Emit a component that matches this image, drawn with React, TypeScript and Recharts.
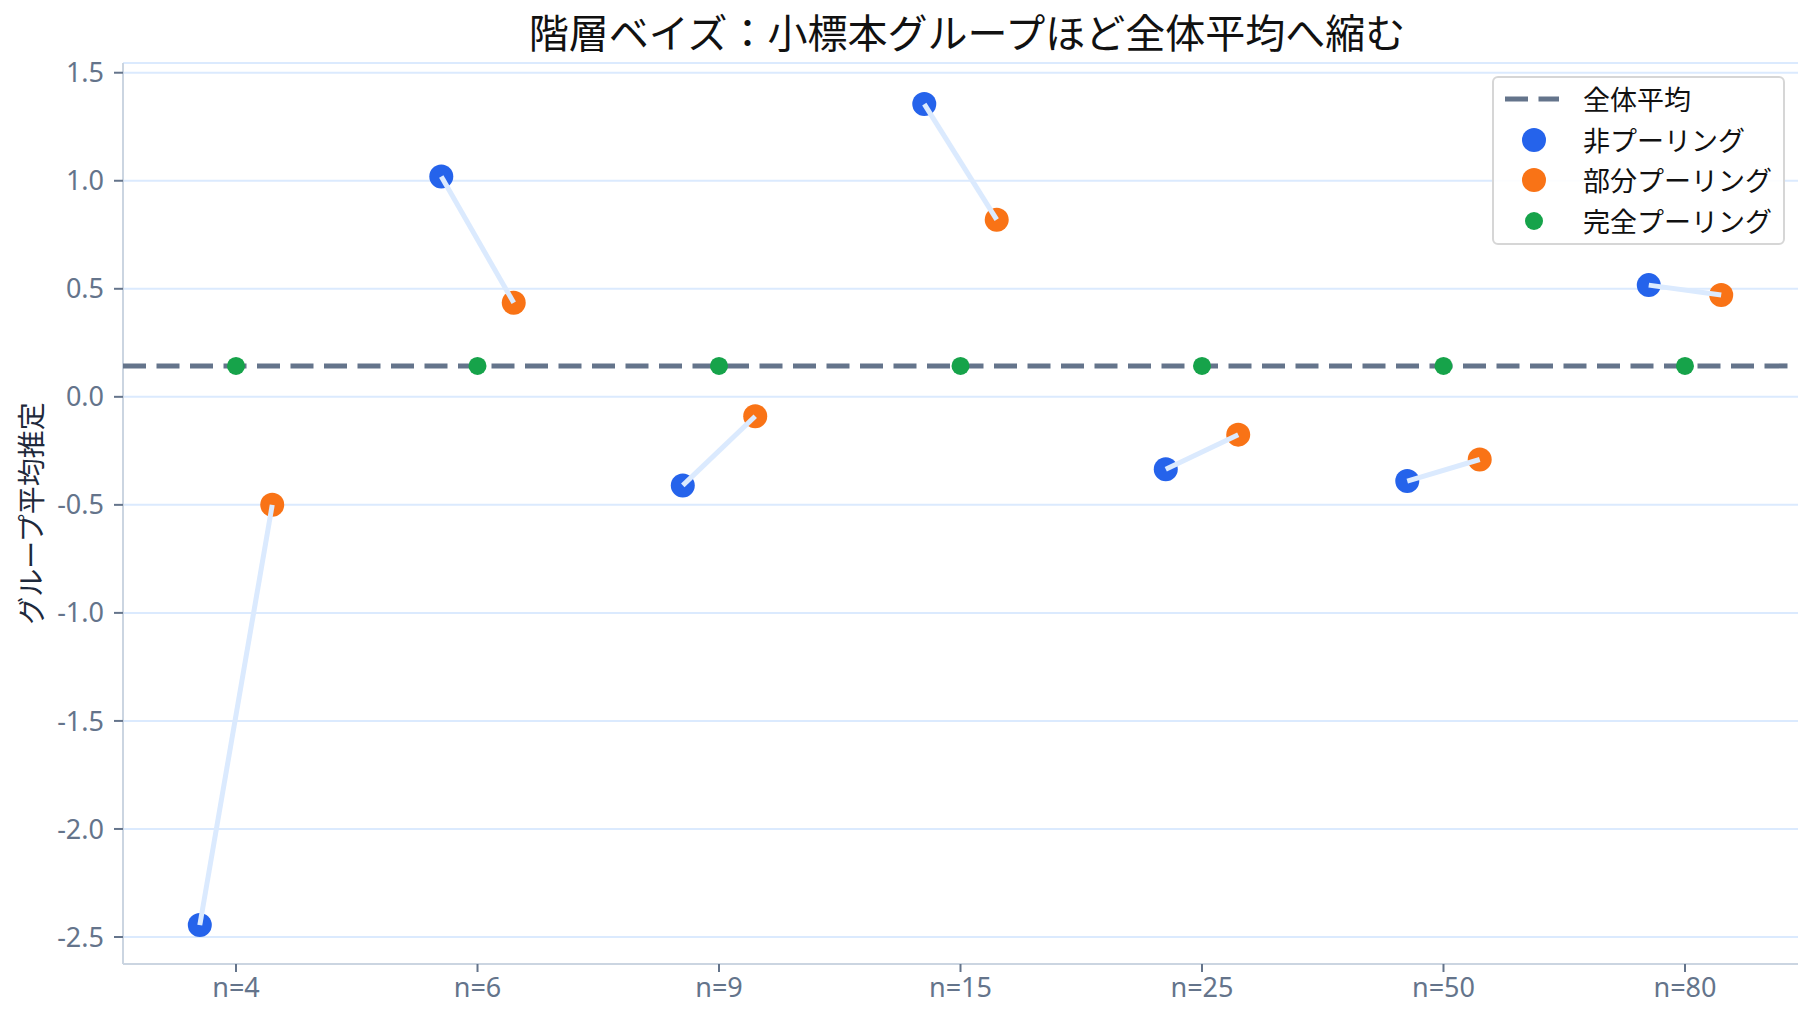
import React from 'react';
import { ScatterChart, Scatter, XAxis, YAxis, CartesianGrid } from 'recharts';

// グループ（サンプルサイズ）
const groups = ['n=4', 'n=6', 'n=9', 'n=15', 'n=25', 'n=50', 'n=80'];
// 各手法のグループ平均推定
const noPooling = [-2.445, 1.02, -0.41, 1.355, -0.335, -0.39, 0.517];
const partialPooling = [-0.5, 0.435, -0.09, 0.82, -0.175, -0.29, 0.471];
const completePooling = [0.143, 0.143, 0.143, 0.143, 0.143, 0.143, 0.143];
const globalMean = 0.143;
const yTicks = [-2.5, -2.0, -1.5, -1.0, -0.5, 0.0, 0.5, 1.0, 1.5];

const FONT = '"Noto Sans CJK JP", "Noto Sans", sans-serif';
const TICK_FONT = '"Noto Sans", "Noto Sans CJK JP", sans-serif';
const BLUE = '#2563eb';
const ORANGE = '#f97316';
const GREEN = '#16a34a';
const SLATE = '#64748b';
const OFFSET = 0.15;
const X_DOMAIN: [number, number] = [-0.468, groups.length - 1 + 0.468];

const noPoolPts = noPooling.map((y, i) => ({ x: i - OFFSET, y }));
const partialPts = partialPooling.map((y, i) => ({ x: i + OFFSET, y }));
const completePts = completePooling.map((y, i) => ({ x: i, y }));
const meanPts = X_DOMAIN.map((x) => ({ x, y: globalMean }));
const segments = groups.map((_, i) => [noPoolPts[i], partialPts[i]]);

const dot = (r: number, fill: string) => (p: any) => <circle cx={p.cx} cy={p.cy} r={r} fill={fill} />;
const none = () => <g />;

const legendItems = [
  { label: '全体平均', kind: 'line' },
  { label: '非プーリング', kind: 'dot', color: BLUE, r: 12 },
  { label: '部分プーリング', kind: 'dot', color: ORANGE, r: 12 },
  { label: '完全プーリング', kind: 'dot', color: GREEN, r: 9 },
];

const LegendBox = () => (
  <div
    style={{
      position: 'absolute', left: 1492, top: 76, width: 293, height: 169, boxSizing: 'border-box',
      border: '2px solid #d6d6d6', borderRadius: 6, background: 'rgba(255,255,255,0.9)',
      fontFamily: FONT, fontSize: 27, color: '#111',
    }}
  >
    {legendItems.map((it, k) => (
      <div key={it.label} style={{ position: 'absolute', left: 0, top: 1 + k * 40.5, height: 40, display: 'flex', alignItems: 'center' }}>
        <svg width={80} height={40} style={{ flex: 'none' }}>
          {it.kind === 'line' ? (
            <line x1={11} x2={65} y1={20} y2={20} stroke={SLATE} strokeWidth={5} strokeDasharray="23 10.5" />
          ) : (
            <circle cx={40} cy={20} r={it.r} fill={it.color} />
          )}
        </svg>
        <span style={{ marginLeft: 9, lineHeight: '40px', whiteSpace: 'nowrap' }}>{it.label}</span>
      </div>
    ))}
  </div>
);

export default function App() {
  return (
    <div style={{ position: 'relative', width: 1815, height: 1025, background: '#fff' }}>
      <style>{'body{margin:0}'}</style>
      <div style={{ position: 'absolute', left: 123, width: 1688, top: 5, textAlign: 'center', fontFamily: FONT, fontSize: 40, color: '#111', lineHeight: '52px' }}>
        階層ベイズ：小標本グループほど全体平均へ縮む
      </div>
      <ScatterChart width={1815} height={1025} margin={{ top: 63, right: 17, bottom: 0, left: 0 }}>
        <CartesianGrid vertical={false} stroke="#dbeafe" strokeWidth={2} />
        <XAxis
          type="number"
          dataKey="x"
          domain={X_DOMAIN}
          ticks={groups.map((_, i) => i)}
          tickFormatter={(v: number) => groups[v] ?? ''}
          allowDataOverflow
          height={61}
          stroke="#cbd5e1"
          strokeWidth={2}
          tickSize={8}
          tickMargin={6}
          tickLine={{ stroke: SLATE, strokeWidth: 2 }}
          tick={{ fill: SLATE, fontSize: 27, fontFamily: TICK_FONT }}
        />
        <YAxis
          type="number"
          dataKey="y"
          domain={[-2.625, 1.545]}
          ticks={yTicks}
          tickFormatter={(v: number) => v.toFixed(1)}
          allowDataOverflow
          width={123}
          stroke="#cbd5e1"
          strokeWidth={2}
          tickSize={9}
          tickMargin={10}
          tickLine={{ stroke: SLATE, strokeWidth: 2 }}
          tick={{ fill: SLATE, fontSize: 27, fontFamily: TICK_FONT }}
          label={{
            value: 'グループ平均推定', angle: -90, position: 'insideLeft', offset: 32,
            style: { textAnchor: 'middle', fill: '#1e293b', fontSize: 28, fontFamily: FONT },
          }}
        />
        <Scatter data={meanPts} shape={none} line={{ stroke: SLATE, strokeWidth: 5, strokeDasharray: '23 10.5' }} isAnimationActive={false} />
        <Scatter data={noPoolPts} shape={dot(12, BLUE)} isAnimationActive={false} />
        <Scatter data={partialPts} shape={dot(12, ORANGE)} isAnimationActive={false} />
        <Scatter data={completePts} shape={dot(9, GREEN)} isAnimationActive={false} />
        {segments.map((seg, i) => (
          <Scatter key={i} data={seg} shape={none} line={{ stroke: '#dbeafe', strokeWidth: 5 }} isAnimationActive={false} />
        ))}
      </ScatterChart>
      <LegendBox />
    </div>
  );
}
